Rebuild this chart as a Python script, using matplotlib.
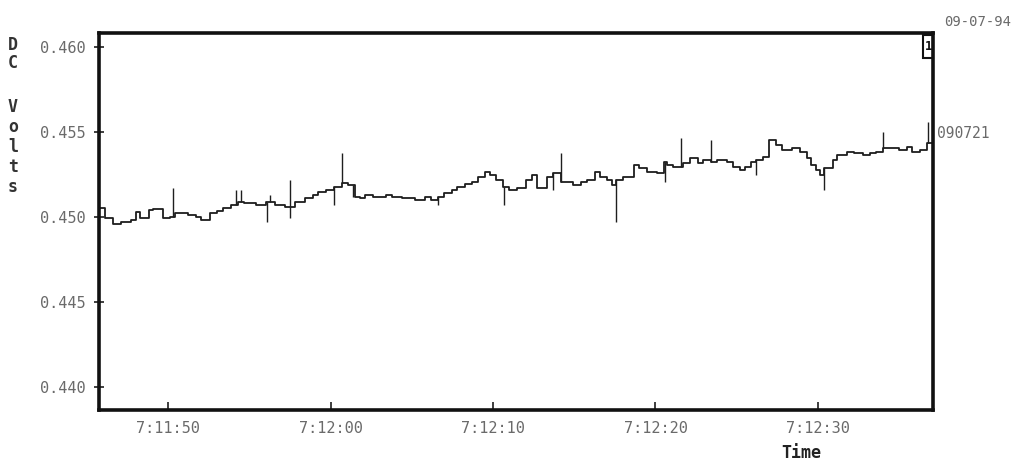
import matplotlib
matplotlib.use("Agg")
import matplotlib.pyplot as plt
from matplotlib.ticker import FuncFormatter, FixedLocator
from matplotlib.patches import Rectangle
import numpy as np

# time in seconds after 7:11:00, DC volts (step trace)
step_t = [45.7, 46.1, 46.6, 47.1, 47.7, 48.0, 48.3, 48.8, 49.1, 49.7,
          50.1, 50.4, 51.2, 51.7, 52.0, 52.6, 53.0, 53.4, 53.9, 54.3,
          54.7, 55.4, 56.0, 56.6, 57.2, 57.8, 58.4, 58.9, 59.2, 59.7,
          60.2, 60.7, 61.1, 61.5, 61.8, 62.1, 62.6, 63.4, 63.8, 64.4,
          65.2, 65.8, 66.2, 66.6, 67.0, 67.5, 67.8, 68.3, 68.7, 69.1,
          69.5, 69.8, 70.2, 70.6, 71.0, 71.5, 72.0, 72.4, 72.7, 73.3,
          73.7, 74.2, 74.9, 75.4, 75.8, 76.3, 76.6, 77.0, 77.3, 77.6,
          78.0, 78.7, 79.0, 79.5, 80.1, 80.5, 80.7, 81.1, 81.7, 82.1,
          82.6, 82.9, 83.4, 83.8, 84.4, 84.8, 85.2, 85.5, 85.9, 86.2,
          86.6, 87.0, 87.4, 87.8, 88.4, 88.9, 89.3, 89.6, 89.9, 90.1,
          90.4, 90.9, 91.2, 91.8, 92.2, 92.8, 93.2, 93.6, 94.0, 95.0,
          95.5, 95.8, 96.3, 96.7, 97.1]
step_v = [0.45053, 0.44994, 0.44959, 0.44971, 0.44982, 0.45029, 0.44994, 0.45041, 0.45047, 0.44994,
          0.45000, 0.45024, 0.45012, 0.45000, 0.44982, 0.45024, 0.45035, 0.45053, 0.45071, 0.45088,
          0.45082, 0.45071, 0.45088, 0.45071, 0.45059, 0.45088, 0.45112, 0.45129, 0.45147, 0.45159,
          0.45176, 0.45200, 0.45188, 0.45118, 0.45112, 0.45129, 0.45118, 0.45129, 0.45118, 0.45112,
          0.45100, 0.45118, 0.45100, 0.45118, 0.45141, 0.45159, 0.45176, 0.45194, 0.45206, 0.45235,
          0.45265, 0.45247, 0.45218, 0.45176, 0.45159, 0.45171, 0.45218, 0.45247, 0.45171, 0.45235,
          0.45259, 0.45206, 0.45188, 0.45206, 0.45218, 0.45265, 0.45235, 0.45218, 0.45188, 0.45218,
          0.45235, 0.45306, 0.45288, 0.45265, 0.45259, 0.45324, 0.45306, 0.45294, 0.45318, 0.45347,
          0.45318, 0.45335, 0.45324, 0.45335, 0.45324, 0.45294, 0.45276, 0.45294, 0.45324, 0.45335,
          0.45353, 0.45453, 0.45424, 0.45394, 0.45406, 0.45382, 0.45347, 0.45306, 0.45276, 0.45247,
          0.45288, 0.45335, 0.45365, 0.45382, 0.45376, 0.45365, 0.45376, 0.45382, 0.45406, 0.45394,
          0.45412, 0.45382, 0.45394, 0.45435, 0.45435]

# single-sample glitches (time, extreme value)
spike_t = [50.3, 54.2, 54.5, 56.1, 56.3, 57.5, 57.5, 60.2, 60.7, 61.4,
           66.6, 70.7, 73.7, 74.2, 77.6, 80.6, 81.6, 83.4, 86.2, 90.4,
           94.0, 96.8]
spike_v = [0.45171, 0.45159, 0.45159, 0.44971, 0.45129, 0.45218, 0.44994, 0.45071, 0.45376, 0.45118,
           0.45071, 0.45071, 0.45159, 0.45376, 0.44971, 0.45206, 0.45465, 0.45453, 0.45247, 0.45159,
           0.45500, 0.45559]

y_ticks = [0.440, 0.445, 0.450, 0.455, 0.460]
x_ticks = [50, 60, 70, 80, 90]

gray = "#6a6a6a"
ink = "#1e1e1e"
mono = "DejaVu Sans Mono"

fig = plt.figure(figsize=(10.23, 4.65), dpi=100)
ax = fig.add_axes([99 / 1023, 1 - 410 / 465, (933 - 99) / 1023, (410 - 33) / 465])

ax.plot(step_t, step_v, drawstyle="steps-post", color=ink, lw=1.3)
base = np.array(step_v)[np.searchsorted(step_t, spike_t, side="right") - 1]
ax.vlines(spike_t, base, spike_v, color=ink, lw=1.0)

ax.set_xlim(45.75, 97.08)
ax.set_ylim(0.43865, 0.46082)

ax.yaxis.set_major_locator(FixedLocator(y_ticks))
ax.xaxis.set_major_locator(FixedLocator(x_ticks))
ax.yaxis.set_major_formatter(FuncFormatter(lambda v, p: "%.3f" % v))
ax.xaxis.set_major_formatter(FuncFormatter(lambda s, p: "7:%d:%02d" % (11 + int(s) // 60, int(s) % 60)))

ax.tick_params(axis="y", direction="inout", length=7, width=1.2, color=ink, pad=6)
ax.tick_params(axis="x", direction="in", length=6, width=1.2, color=ink, pad=8)
for lab in ax.get_xticklabels() + ax.get_yticklabels():
    lab.set_fontfamily(mono)
    lab.set_fontsize(11)
    lab.set_color(gray)

for sp in ax.spines.values():
    sp.set_linewidth(2.6)
    sp.set_color("#111111")

# little marker box in the top right corner
ax.add_patch(Rectangle((0.9885, 0.935), 0.0115, 0.06, transform=ax.transAxes,
                       facecolor="white", edgecolor="#111111", lw=1.5, clip_on=False))
ax.text(0.9943, 0.965, "1", transform=ax.transAxes, ha="center", va="center",
        fontsize=9, fontweight="bold", family=mono, color="#111111")

# stacked y label
fig.text(13 / 1023, 1 - 54 / 465, "D\nC", ha="center", va="center", family=mono,
         fontsize=12, fontweight="bold", color="#333333", linespacing=1.05)
fig.text(13 / 1023, 1 - 147 / 465, "V\no\nl\nt\ns", ha="center", va="center", family=mono,
         fontsize=12, fontweight="bold", color="#333333", linespacing=1.15)

fig.text(801 / 1023, 1 - 453 / 465, "Time", ha="center", va="center", family=mono,
         fontsize=12, fontweight="bold", color="#222222")
fig.text(978 / 1023, 1 - 22 / 465, "09-07-94", ha="center", va="center", family=mono,
         fontsize=10, color=gray)
fig.text(937 / 1023, 1 - 133 / 465, "090721", ha="left", va="center", family=mono,
         fontsize=10.5, color=gray)

fig.savefig("out.png", dpi=100)
